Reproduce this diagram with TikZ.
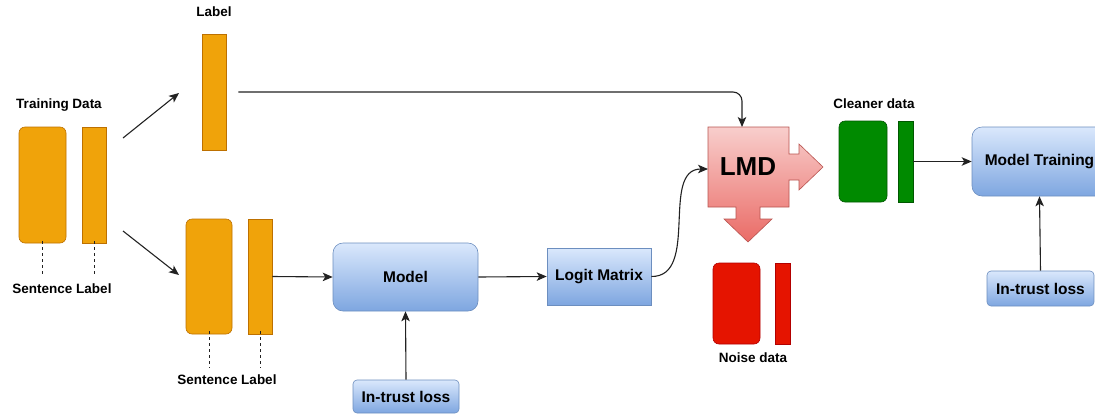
\documentclass[tikz,border=0pt]{standalone}
\usepackage{fontspec}
\setmainfont{Liberation Sans}
\usetikzlibrary{arrows.meta}
\definecolor{orangefill}{HTML}{F0A30A}
\definecolor{orangedraw}{HTML}{BD7000}
\definecolor{greenfill}{HTML}{008A00}
\definecolor{greendraw}{HTML}{005700}
\definecolor{redfill}{HTML}{E51400}
\definecolor{reddraw}{HTML}{B20000}
\definecolor{bluetop}{HTML}{DAE8FC}
\definecolor{bluebot}{HTML}{7EA6E0}
\definecolor{bluedraw}{HTML}{6C8EBF}
\definecolor{pinktop}{HTML}{F8CECC}
\definecolor{pinkbot}{HTML}{EA6B66}
\definecolor{pinkdraw}{HTML}{B85450}
\definecolor{edgecol}{HTML}{222222}
\tikzset{
  lbl/.style={font=\fontsize{13.5}{16}\selectfont\bfseries, inner sep=0pt},
  boxtext/.style={font=\fontsize{15.5}{18}\selectfont\bfseries},
  datablock/.style={draw=#1draw, fill=#1fill, line width=0.6pt, inner sep=0pt, rounded corners=6pt},
  databar/.style={draw=#1draw, fill=#1fill, line width=0.6pt, inner sep=0pt},
  bluebox/.style={boxtext, draw=bluedraw, top color=bluetop, bottom color=bluebot, line width=0.6pt, inner sep=0pt},
  arr/.style={draw=edgecol, line width=1.1pt, -{Stealth[length=10pt,width=8.5pt,inset=2.5pt]}},
  dashline/.style={draw=edgecol, line width=0.9pt, dashed, dash pattern=on 3pt off 3pt},
}
\begin{document}
\begin{tikzpicture}[x=1pt,y=-1pt]
\useasboundingbox (0,0) rectangle (1095,413);

% Training data
\node[lbl] (tdtext) at (59,105) {Training Data};
\node[datablock=orange, minimum width=47pt, minimum height=116pt] (tds) at (42.5,185) {};
\node[databar=orange, minimum width=24pt, minimum height=116pt] (tdl) at (94,185) {};
\coordinate (tdsend) at (42.5,277);
\coordinate (tdlend) at (94,277);
\draw[dashline] ([yshift=2pt]tds.south) -- (tdsend);
\draw[dashline] ([yshift=2pt]tdl.south) -- (tdlend);
\node[lbl] (tdsl) at (62,289) {Sentence Label};

% Label branch
\node[lbl] (labeltext) at (214,12) {Label};
\node[databar=orange, minimum width=24pt, minimum height=116pt] (lb) at (214,92) {};

% lower sentence branch
\node[datablock=orange, minimum width=46pt, minimum height=115pt] (lss) at (209,276.5) {};
\node[databar=orange, minimum width=24pt, minimum height=115pt] (lsl) at (260,276.5) {};
\coordinate (lssend) at (209,368);
\coordinate (lslend) at (260,368);
\draw[dashline] ([yshift=3pt]lss.south) -- (lssend);
\draw[dashline] ([yshift=3pt]lsl.south) -- (lslend);
\node[lbl] (lssl) at (227,380) {Sentence Label};

% split arrows
\coordinate (up0) at (123,138);
\coordinate (up1) at (179,93);
\coordinate (dn0) at (123,231);
\coordinate (dn1) at (179,275);
\draw[arr] (up0) -- (up1);
\draw[arr] (dn0) -- (dn1);

% Model and logit
\node[bluebox, rounded corners=10pt, minimum width=145pt, minimum height=68pt] (model) at (405.5,277) {Model};
\node[bluebox, minimum width=104pt, minimum height=57pt] (logit) at (599,276.5) {Logit Matrix};
\node[bluebox, rounded corners=4pt, minimum width=106pt, minimum height=33pt] (trust1) at (406,396.5) {In-trust loss};
\draw[arr] (lsl.east) -- (model.west);
\draw[arr] (model.east) -- (logit.west);
\draw[arr] (trust1.north) -- (model.south);

% LMD shape
\draw[draw=pinkdraw, line width=0.6pt, top color=pinktop, bottom color=pinkbot]
  (708,127) -- (789,127) -- (789,154) -- (799,154) -- (799,144) -- (823,167)
  -- (799,190) -- (799,180) -- (789,180) -- (789,207) -- (760,207) -- (760,219)
  -- (772,219) -- (748,242) -- (724,219) -- (736,219) -- (736,207) -- (708,207) -- cycle;
\node[font=\fontsize{26}{30}\selectfont\bfseries] (lmd) at (748,167) {LMD};
\coordinate (lmdtop) at (742,127);
\coordinate (lmdleft) at (708,169);

\draw[arr, rounded corners=9pt] ([xshift=12pt]lb.east) -| (lmdtop);
\draw[arr] (logit.east) .. controls (700,277) and (660,169) .. (lmdleft);

% Cleaner data
\node[lbl] (cltext) at (874,104) {Cleaner data};
\node[datablock=green, minimum width=48pt, minimum height=81pt] (cls) at (863,161.5) {};
\node[databar=green, minimum width=15pt, minimum height=81pt] (cll) at (905.5,161.5) {};

% Model training
\node[bluebox, rounded corners=10pt, minimum width=135pt, minimum height=69pt] (mt) at (1039.5,161.5) {Model Training};
\node[bluebox, rounded corners=4pt, minimum width=107pt, minimum height=35pt] (trust2) at (1040.5,288.5) {In-trust loss};
\draw[arr] (cll.east) -- (mt.west);
\draw[arr] (trust2.north) -- (mt.south);

% Noise data
\node[datablock=red, minimum width=47pt, minimum height=81pt] (nss) at (736.5,303.5) {};
\node[databar=red, minimum width=15pt, minimum height=81pt] (nsl) at (782.5,303.5) {};
\node[lbl] (nstext) at (753,358) {Noise data};
\end{tikzpicture}
\end{document}
